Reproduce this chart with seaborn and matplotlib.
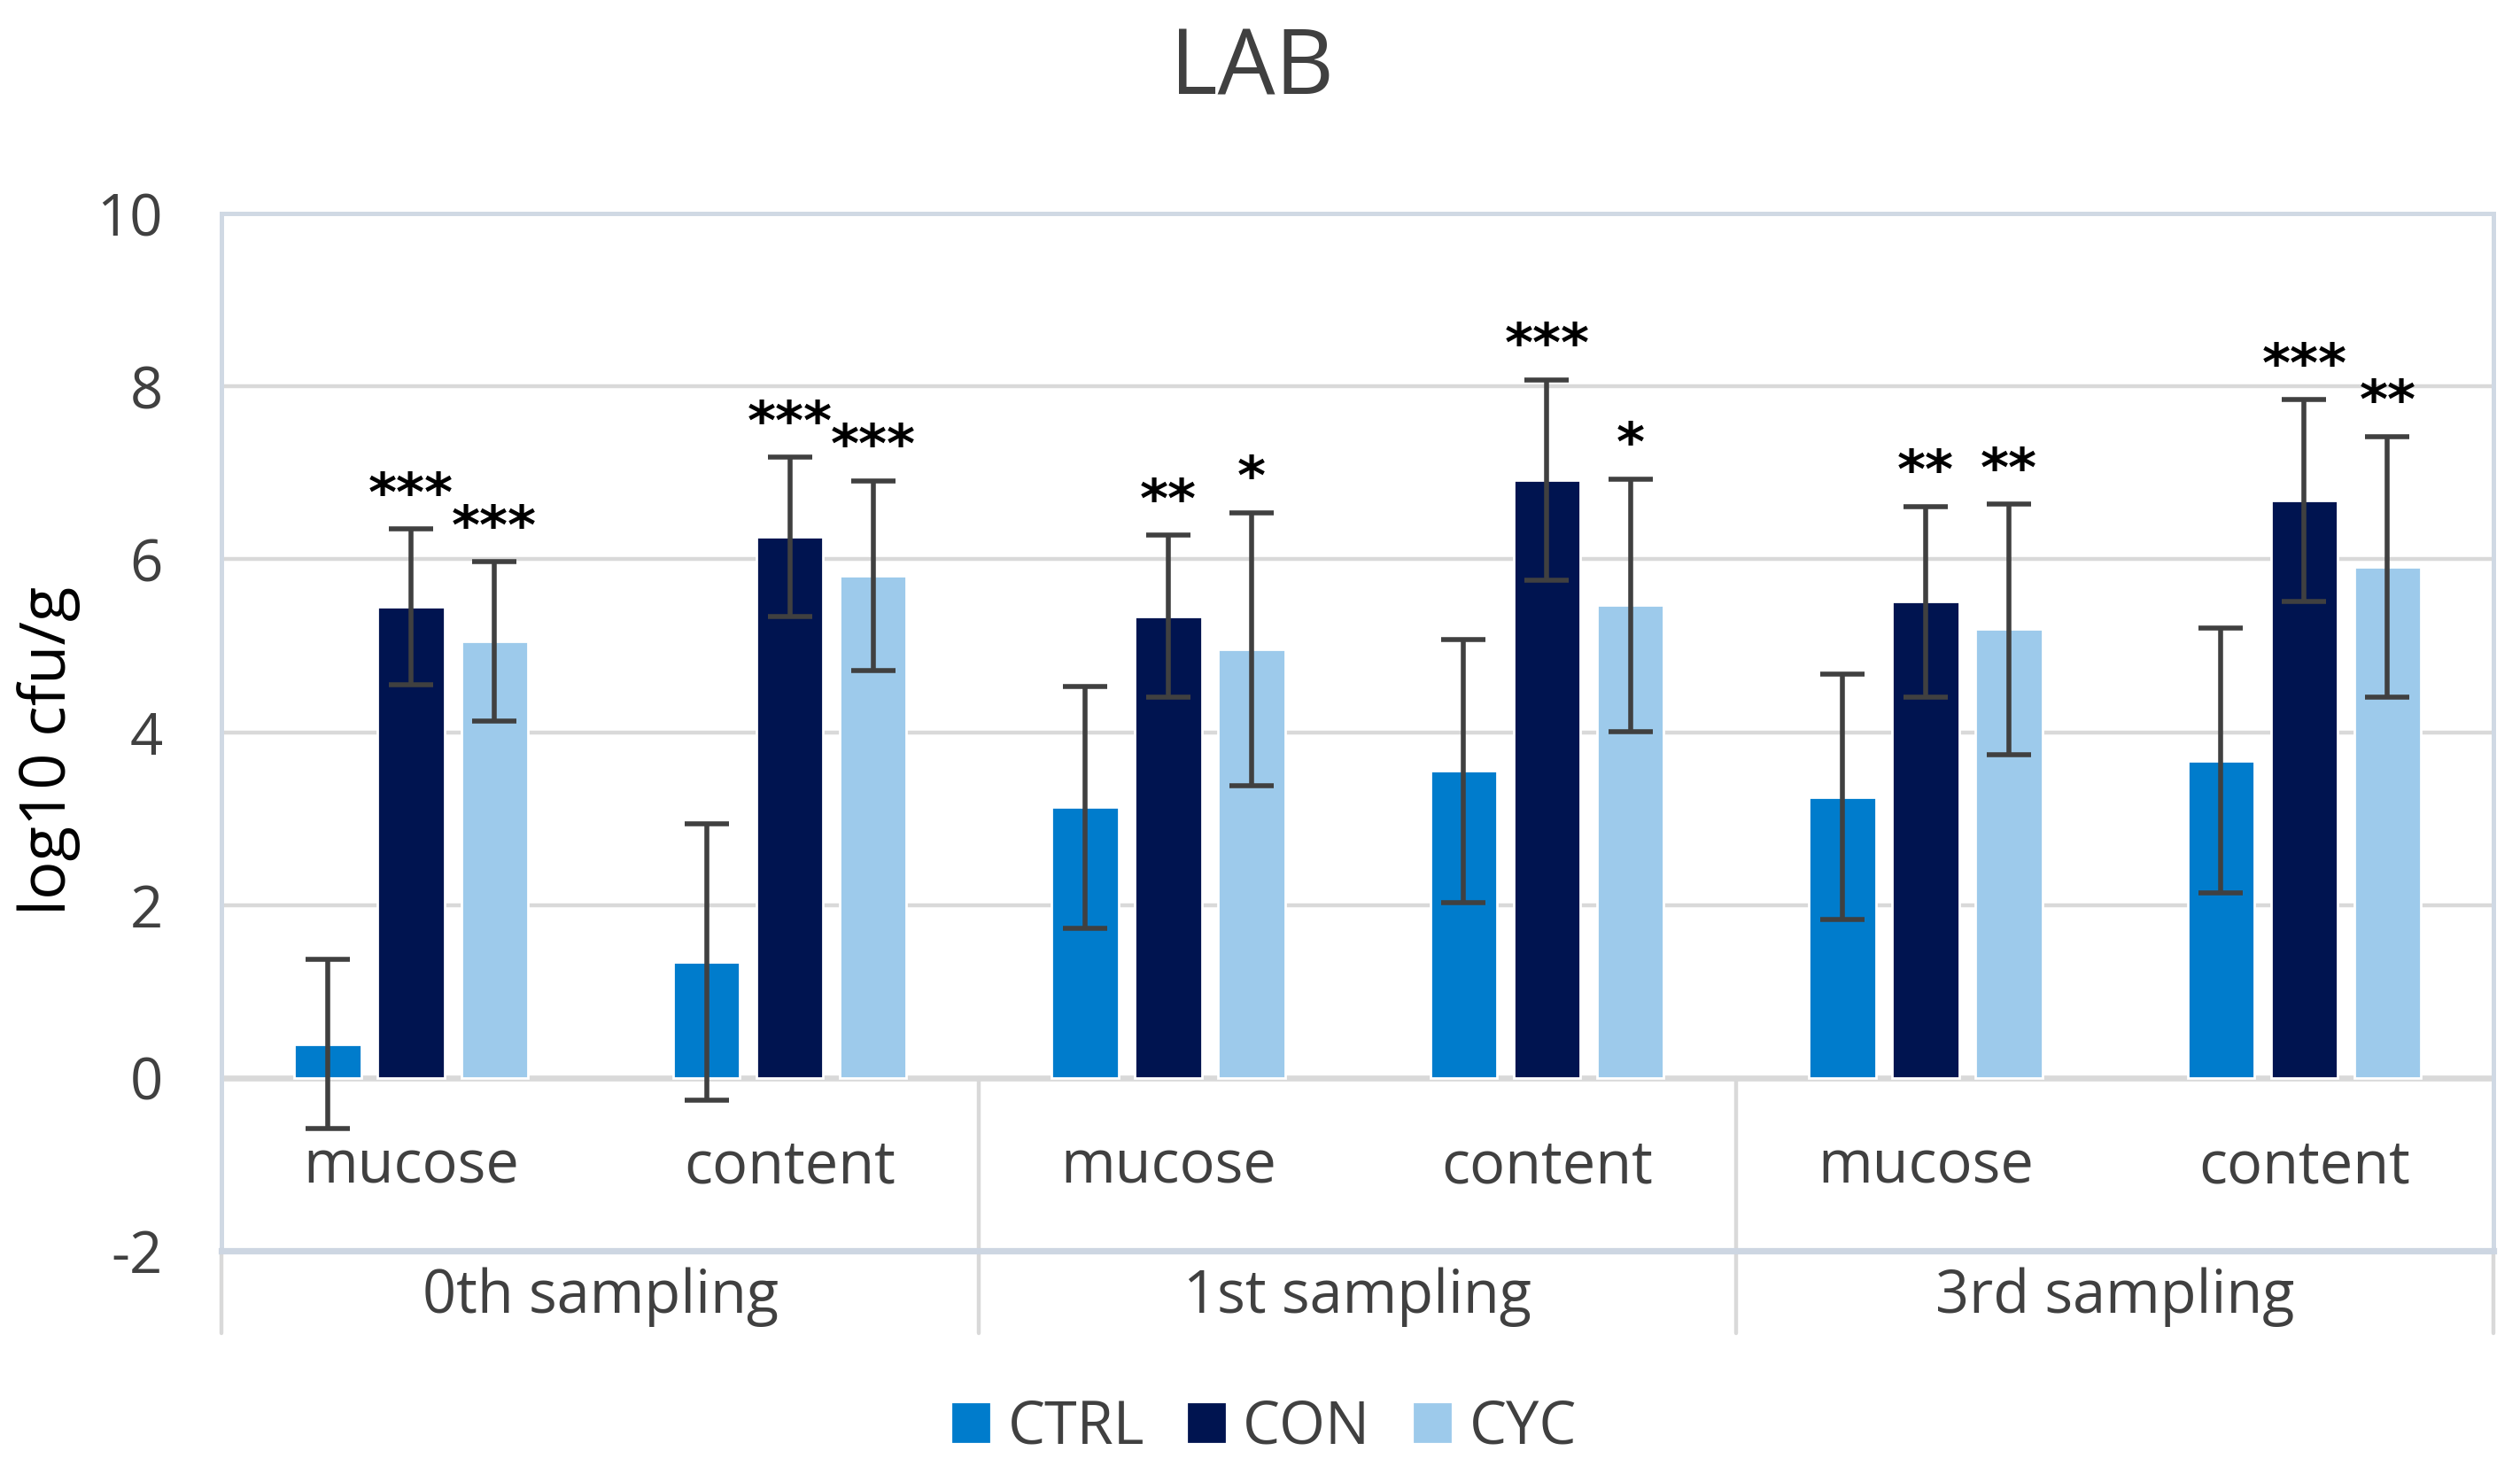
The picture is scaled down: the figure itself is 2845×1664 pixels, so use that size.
import seaborn as sns
import matplotlib.pyplot as plt
import pandas as pd

# data (log10 cfu/g, mean and SD)
samplings = ["0th sampling", "1st sampling", "3rd sampling"]
sites = ["mucose", "content"]
groups = ["CTRL", "CON", "CYC"]

ctrl_mean = [0.39, 1.34, 3.13, 3.55, 3.25, 3.67]
ctrl_err = [0.98, 1.60, 1.40, 1.52, 1.42, 1.53]
con_mean = [5.45, 6.26, 5.34, 6.92, 5.51, 6.68]
con_err = [0.90, 0.92, 0.94, 1.16, 1.10, 1.17]
cyc_mean = [5.05, 5.81, 4.96, 5.47, 5.19, 5.91]
cyc_err = [0.92, 1.10, 1.58, 1.46, 1.45, 1.51]

con_stars = ["***", "***", "**", "***", "**", "***"]
cyc_stars = ["***", "***", "*", "*", "**", "**"]

colors = ["#007CCC", "#001450", "#9DCAEB"]
text_grey = "#404040"

sns.set_theme(style="white")
plt.rcParams['font.family'] = ['Open Sans', 'DejaVu Sans']
plt.rcParams['axes.unicode_minus'] = False

cats = [f"{s} {site}" for s in samplings for site in sites]
rows = []
for g, means, errs in zip(groups, [ctrl_mean, con_mean, cyc_mean], [ctrl_err, con_err, cyc_err]):
    for c, m, e in zip(cats, means, errs):
        rows.append({"cat": c, "group": g, "mean": m, "err": e})
df = pd.DataFrame(rows)

fig = plt.figure(figsize=(14.225, 8.32), dpi=200)
ax = fig.add_axes([0.088, 0.1516, 0.9015, 0.7034])

sns.barplot(data=df, x="cat", y="mean", hue="group", order=cats, hue_order=groups,
            palette=colors, width=0.66, gap=0.2, errorbar=None, saturation=1,
            legend=False, ax=ax, zorder=3)

# error bars + significance stars
for i, (g, cont) in enumerate(zip(groups, ax.containers)):
    sub = df[df["group"] == g].set_index("cat").loc[cats]
    xs = [b.get_x() + b.get_width() / 2 for b in cont]
    ax.errorbar(xs, sub["mean"], yerr=sub["err"], fmt="none", ecolor=text_grey,
                elinewidth=2.0, capsize=9, capthick=2.0, zorder=4)
    stars = {"CON": con_stars, "CYC": cyc_stars}.get(g)
    if stars:
        for x, m, e, s in zip(xs, sub["mean"], sub["err"], stars):
            ax.text(x, m + e + 0.21, s, ha="center", va="baseline", fontsize=22,
                    fontweight="bold", family="DejaVu Sans", color="black", zorder=5)

ax.set_xlim(-0.5, 5.5)
ax.set_ylim(-2, 10)
ax.set_yticks(range(-2, 11, 2))
ax.set_xticks([])
ax.set_xlabel("")
ax.set_ylabel("")
ax.tick_params(axis="y", length=0, pad=24, labelsize=23.5, labelcolor=text_grey)

# grid lines
for y in [2, 4, 6, 8]:
    ax.axhline(y, color="#D9D9D9", lw=1.6, zorder=1)
ax.axhline(0, color="#D9D9D9", lw=2.4, zorder=2)

for side in ["top", "left", "right"]:
    ax.spines[side].set_color("#D0D9E4")
    ax.spines[side].set_linewidth(1.8)
ax.spines["bottom"].set_color("#CDD6E2")
ax.spines["bottom"].set_linewidth(2.6)

# category axis: separators and labels
for x in [1.5, 3.5]:
    ax.plot([x, x], [0, -2.96], color="#D9D9D9", lw=1.6, clip_on=False, zorder=1)
for x in [-0.5, 5.5]:
    ax.plot([x, x], [-2, -2.96], color="#D9D9D9", lw=1.6, clip_on=False, zorder=1)

for i, c in enumerate(cats):
    site = c.split(" ")[-1]
    ax.text(i, -1.22, site, ha="center", va="baseline", fontsize=24, color=text_grey)
for j, s in enumerate(samplings):
    ax.text(2 * j + 0.5, -2.72, s, ha="center", va="baseline", fontsize=24,
            color=text_grey, clip_on=False)

fig.text(0.4968, 0.9357, "LAB", ha="center", va="baseline", fontsize=37, color=text_grey)
fig.text(0.0193, 0.491, "log10 cfu/g", rotation=90, ha="center", va="center",
         fontsize=26, color="black")

handles = [plt.Rectangle((0, 0), 1, 1, color=c) for c in colors]
fig.legend(handles, groups, loc="center", bbox_to_anchor=(0.502, 0.0316), ncol=3,
           frameon=False, fontsize=24, labelcolor=text_grey, handlelength=0.6,
           handleheight=0.6, handletextpad=0.32, columnspacing=0.75)

plt.savefig("out.png", dpi=200)
